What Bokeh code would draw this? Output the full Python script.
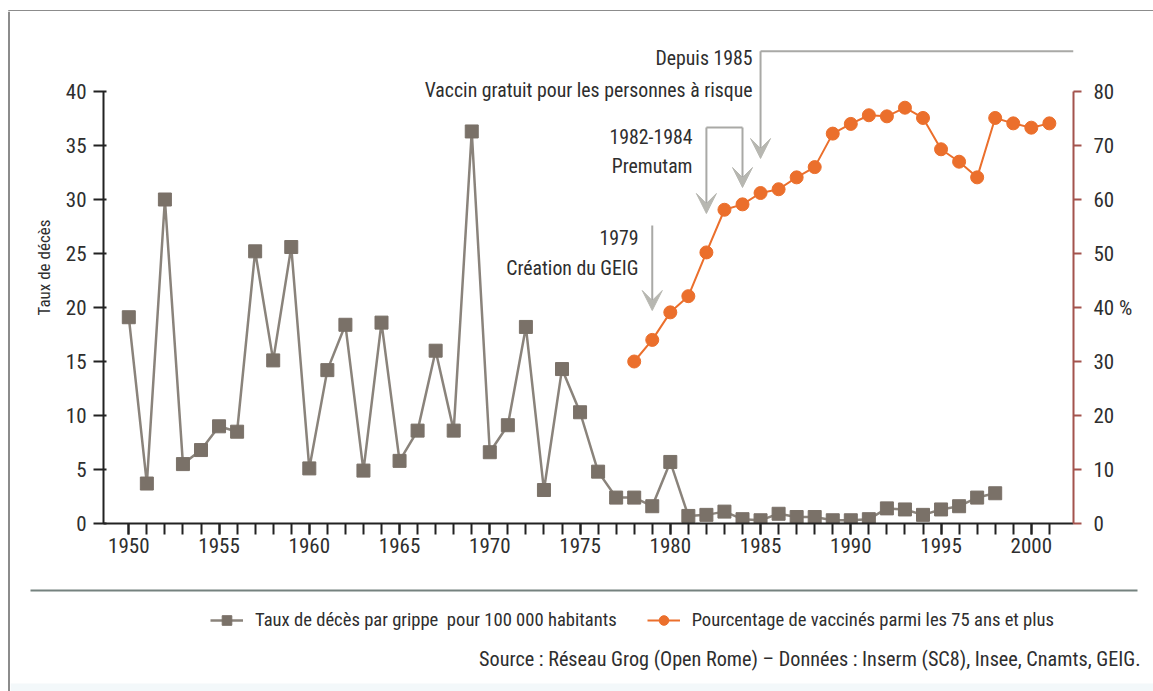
import subprocess
from bokeh.plotting import figure
from bokeh.layouts import column, row
from bokeh.models import (Range1d, LinearAxis, FixedTicker, Label, Arrow, VeeHead,
                          Legend, LegendItem)
from bokeh.embed import file_html
from bokeh.resources import INLINE

# ---------------- data ----------------
years_deaths = list(range(1950, 1999))
death_rate = [19.1, 3.7, 30.0, 5.5, 6.8, 9.0, 8.5, 25.2, 15.1, 25.6,
              5.1, 14.2, 18.4, 4.9, 18.6, 5.8, 8.6, 16.0, 8.6, 36.3,
              6.6, 9.1, 18.2, 3.1, 14.3, 10.3, 4.8, 2.4, 2.4, 1.6,
              5.7, 0.7, 0.8, 1.1, 0.4, 0.3, 0.9, 0.6, 0.6, 0.3,
              0.3, 0.4, 1.4, 1.3, 0.8, 1.3, 1.6, 2.4, 2.8]

years_vacc = list(range(1978, 2002))
vacc_pct = [30.0, 34.0, 39.1, 42.1, 50.2, 58.1, 59.1, 61.2, 61.9, 64.1,
            66.0, 72.2, 74.0, 75.6, 75.4, 77.0, 75.1, 69.3, 67.0, 64.1,
            75.1, 74.1, 73.3, 74.1]

left_ticks = list(range(0, 41, 5))
right_ticks = list(range(0, 81, 10))
x_major_ticks = list(range(1950, 2001, 5))
x_minor_ticks = list(range(1950, 2002))

label_deaths = "Taux de décès par grippe  pour 100 000 habitants"
label_vacc = "Pourcentage de vaccinés parmi les 75 ans et plus"
y_title = "Taux de décès"
source_text = "Source : Réseau Grog (Open Rome) – Données : Inserm (SC8), Insee, Cnamts, GEIG."
notes = [
    ("Depuis 1985", "Vaccin gratuit pour les personnes à risque"),
    ("1982-1984", "Premutam"),
    ("1979", "Création du GEIG"),
]


# ---------------- font choice (condensed if available) ----------------
def pick_font():
    try:
        out = subprocess.run(["fc-list", ":", "family"], capture_output=True,
                             text=True, timeout=20).stdout
    except Exception:
        out = ""
    fams = set()
    for line in out.splitlines():
        for f in line.split(","):
            fams.add(f.strip())
    for cand, w in [("Liberation Sans Narrow", 0.82), ("Roboto Condensed", 0.88),
                    ("Noto Sans Condensed", 0.9), ("DejaVu Sans Condensed", 1.0),
                    ("Noto Sans SemiCondensed", 0.95)]:
        if cand in fams:
            return cand, w
    return "Liberation Sans", 1.0


FONT, WFAC = pick_font()


def fs(px):
    return "%.1fpx" % (px / WFAC)


# ---------------- styles ----------------
TEXT = "#2e2e2e"
GRAY = "#7a7168"
GRAY_LINE = "#8a837b"
ORANGE = "#eb6f2c"
RED_AXIS = "#a3534d"
ARROW_C = "#b7b7b1"
NOTE_LINE = "#a9a9a6"
BORDER = "#8c8c8c"

PAGE_W, PAGE_H = 1153, 691
TOP_H = 11            # strip holding the top border
LEFT_W = 10           # strip holding the left border
MAIN_H = 564          # main chart (page y 11 .. 575)
BOT_TOP = TOP_H + MAIN_H
BOT_H = PAGE_H - BOT_TOP
MAIN_W = PAGE_W - LEFT_W

AX_LEFT_PAGE, AX_RIGHT_PAGE, AX_BOTTOM_PAGE = 103, 1073, 523
ML = AX_LEFT_PAGE - LEFT_W
MR = PAGE_W - AX_RIGHT_PAGE
MT = 0
MB = BOT_TOP - AX_BOTTOM_PAGE
FRAME_W = MAIN_W - ML - MR
FRAME_H = MAIN_H - MT - MB

PX_YEAR = 18.05
PX_UNIT = 10.8          # px per unit on the left axis
PX_PCT = PX_UNIT / 2.0  # px per unit on the right axis
X_START = 1950 - (128.3 - AX_LEFT_PAGE) / PX_YEAR
X_END = X_START + FRAME_W / PX_YEAR


def dx(page_x):
    return X_START + (page_x - AX_LEFT_PAGE) / PX_YEAR


def dy(page_y):
    return (AX_BOTTOM_PAGE - page_y) / PX_UNIT


def blank_fig(w, h, xr, yr):
    f = figure(width=w, height=h, output_backend="svg", toolbar_location=None,
               x_range=xr, y_range=yr, x_axis_location=None, y_axis_location=None,
               min_border=0)
    f.grid.visible = False
    f.outline_line_color = None
    f.background_fill_color = "white"
    f.border_fill_color = "white"
    return f


# ---------------- main chart ----------------
p = figure(width=MAIN_W, height=MAIN_H, output_backend="svg", toolbar_location=None,
           x_range=Range1d(X_START, X_END),
           y_range=Range1d(0, FRAME_H / PX_UNIT),
           min_border_left=ML, min_border_right=MR,
           min_border_top=MT, min_border_bottom=MB)
p.extra_y_ranges = {"pct": Range1d(0, FRAME_H / PX_PCT)}
p.outline_line_color = None
p.xgrid.grid_line_color = None
p.ygrid.grid_line_color = None
p.background_fill_color = "white"
p.border_fill_color = "white"

xa = p.xaxis[0]
xa.ticker = FixedTicker(ticks=x_major_ticks, minor_ticks=x_minor_ticks)
xa.axis_line_color = "#222222"
xa.axis_line_width = 2
xa.major_tick_line_color = "#222222"
xa.major_tick_line_width = 2
xa.minor_tick_line_color = "#222222"
xa.minor_tick_line_width = 2
xa.major_tick_out = 11
xa.major_tick_in = 0
xa.minor_tick_out = 11
xa.minor_tick_in = 0
xa.major_label_standoff = 3
xa.major_label_text_font = FONT
xa.major_label_text_font_size = fs(18.5)
xa.major_label_text_color = TEXT

ya = p.yaxis[0]
ya.ticker = FixedTicker(ticks=left_ticks)
ya.bounds = (0, 40)
ya.axis_line_color = "#222222"
ya.axis_line_width = 2
ya.major_tick_line_color = "#222222"
ya.major_tick_line_width = 2
ya.major_tick_out = 10
ya.major_tick_in = 3
ya.minor_tick_line_color = None
ya.major_label_standoff = 7
ya.major_label_text_font = FONT
ya.major_label_text_font_size = fs(18.5)
ya.major_label_text_color = TEXT
ya.axis_label = y_title
ya.axis_label_text_font = FONT
ya.axis_label_text_font_size = fs(15)
ya.axis_label_text_font_style = "normal"
ya.axis_label_text_color = TEXT
ya.axis_label_standoff = 9

ra = LinearAxis(y_range_name="pct", ticker=FixedTicker(ticks=right_ticks), bounds=(0, 80))
ra.axis_line_color = RED_AXIS
ra.axis_line_width = 2
ra.major_tick_line_color = RED_AXIS
ra.major_tick_line_width = 2
ra.major_tick_out = 8
ra.major_tick_in = 0
ra.minor_tick_line_color = None
ra.major_label_standoff = 12
ra.major_label_overrides = {40: "40 %"}
ra.major_label_text_font = FONT
ra.major_label_text_font_size = fs(18.5)
ra.major_label_text_color = TEXT
p.add_layout(ra, "right")

gl = p.line(years_deaths, death_rate, line_color=GRAY_LINE, line_width=2.5)
gs = p.scatter(years_deaths, death_rate, marker="square", size=13,
               fill_color=GRAY, line_color=GRAY)
ol = p.line(years_vacc, vacc_pct, y_range_name="pct", line_color=ORANGE, line_width=2)
os_ = p.scatter(years_vacc, vacc_pct, y_range_name="pct", marker="circle", size=13,
                fill_color=ORANGE, line_color=ORANGE)


def varrow(year, top_py, tip_py):
    p.add_layout(Arrow(end=VeeHead(size=20, fill_color=ARROW_C, line_color=ARROW_C),
                       x_start=year, y_start=dy(top_py), x_end=year, y_end=dy(tip_py),
                       line_color=NOTE_LINE, line_width=2))


varrow(1979, 225, 310)
varrow(1982, 127, 213)
varrow(1984, 127, 187)
varrow(1985, 50.7, 158)
p.line([1982, 1984], [dy(127), dy(127)], line_color=NOTE_LINE, line_width=2)
p.line([1985, X_END], [dy(50.7), dy(50.7)], line_color=NOTE_LINE, line_width=2)

note_pos = [(752, 58, 90), (692, 136, 166), (638, 237, 268)]
for (l1, l2), (rx, y1, y2) in zip(notes, note_pos):
    for txt, yy in ((l1, y1), (l2, y2)):
        p.add_layout(Label(x=dx(rx), y=dy(yy), text=txt, text_align="right",
                           text_baseline="middle", text_font=FONT,
                           text_font_size=fs(17.4), text_color=TEXT))

# ---------------- bottom strip: separator, legend, source ----------------
b = blank_fig(MAIN_W, BOT_H, Range1d(LEFT_W, PAGE_W), Range1d(PAGE_H, BOT_TOP))
b.quad(left=[LEFT_W], right=[PAGE_W], bottom=[PAGE_H], top=[683],
       fill_color="#f3f8fa", line_color=None)
b.line([30, 1137], [590, 590], line_color="#75827f", line_width=2)
# legend keys (same styling as the series; their single point lies off-canvas)
OFF = [-50]
kgl = b.line(OFF, OFF, line_color=GRAY_LINE, line_width=2.5)
kgs = b.scatter(OFF, OFF, marker="square", size=13, fill_color=GRAY, line_color=GRAY)
kol = b.line(OFF, OFF, line_color=ORANGE, line_width=2)
kos = b.scatter(OFF, OFF, marker="circle", size=13, fill_color=ORANGE, line_color=ORANGE)
LEG_H = 24
legend = Legend(items=[LegendItem(label=label_deaths, renderers=[kgl, kgs]),
                       LegendItem(label=label_vacc, renderers=[kol, kos])],
                orientation="horizontal",
                location=(210 - LEFT_W, PAGE_H - (620 + LEG_H / 2)),
                glyph_width=33, glyph_height=LEG_H, label_height=LEG_H,
                label_standoff=12, spacing=30,
                padding=0, margin=0, border_line_color=None, background_fill_alpha=0,
                label_text_font=FONT, label_text_font_size=fs(16.4),
                label_text_color=TEXT)
b.add_layout(legend)
b.add_layout(Label(x=1140, y=658, text=source_text, text_align="right",
                   text_baseline="middle", text_font=FONT, text_font_size=fs(17.8),
                   text_color=TEXT))

# ---------------- border strips ----------------
t = blank_fig(PAGE_W, TOP_H, Range1d(0, PAGE_W), Range1d(TOP_H, 0))
t.line([8, PAGE_W], [9.5, 9.5], line_color=BORDER, line_width=2)
t.line([8.5, 8.5], [9, TOP_H], line_color=BORDER, line_width=2)
LFT_H = PAGE_H - TOP_H
lft = blank_fig(LEFT_W, LFT_H, Range1d(0, LEFT_W), Range1d(LFT_H, 0))
lft.line([8.5, 8.5], [0, LFT_H], line_color=BORDER, line_width=2)

layout = column(t, row(lft, column(p, row(b))))
open("out.html", "w").write(file_html(layout, INLINE))
